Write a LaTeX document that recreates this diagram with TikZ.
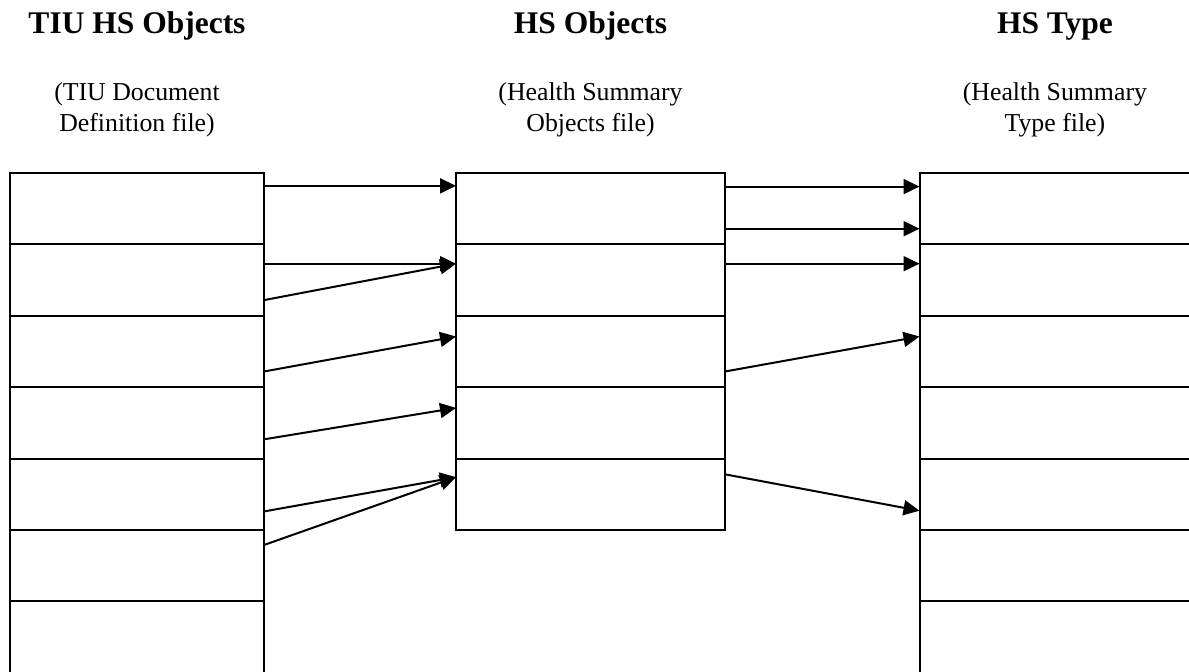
\documentclass[tikz,border=0pt]{standalone}
\usepackage{fontspec}
\setmainfont{Liberation Serif}
\usetikzlibrary{
  arrows.meta,
  positioning,  % Function "of" (e.g. [below=of x])
  calc,         % Calculations $...$
}
\def\myrowh{35.7pt}
\def\mylinew{1pt}
\tikzset{
  x=0.5pt,
  y=-0.5pt,
  >={Triangle[length=8pt,width=7.5pt]},
  cell/.style={
    draw,
    rectangle,
    line width=\mylinew,
    minimum height=\myrowh,
    inner sep=0mm,
    outer sep=0mm
  },
  tiu cell/.style={cell, minimum width=127pt},
  obj cell/.style={cell, minimum width=134.5pt},
  type cell/.style={cell, minimum width=140pt},
  heading/.style={
    anchor=base,
    inner sep=0mm,
    font=\fontsize{15.75}{18}\selectfont\bfseries
  },
  subheading/.style={
    anchor=base,
    inner sep=0mm,
    align=center,
    font=\fontsize{12.9}{15.5}\selectfont
  },
  link/.style={->, line width=\mylinew}
}

\begin{document}
\begin{tikzpicture}[node distance=0mm]
\useasboundingbox (0,0) rectangle (1189,671);
\clip (0,0) rectangle (1189,671);
% columns
\node[tiu cell,anchor=north west] (L1) at (10,173) {};
\node[tiu cell]  (L2) [below=of L1] {};
\node[tiu cell]  (L3) [below=of L2] {};
\node[tiu cell]  (L4) [below=of L3] {};
\node[tiu cell]  (L5) [below=of L4] {};
\node[tiu cell]  (L6) [below=of L5] {};
\node[tiu cell]  (L7) [below=of L6] {};
\node[obj cell,anchor=north west] (M1) at (456,173) {};
\node[obj cell]  (M2) [below=of M1] {};
\node[obj cell]  (M3) [below=of M2] {};
\node[obj cell]  (M4) [below=of M3] {};
\node[obj cell]  (M5) [below=of M4] {};
\node[type cell,anchor=north west] (R1) at (919.5,173) {};
\node[type cell] (R2) [below=of R1] {};
\node[type cell] (R3) [below=of R2] {};
\node[type cell] (R4) [below=of R3] {};
\node[type cell] (R5) [below=of R4] {};
\node[type cell] (R6) [below=of R5] {};
\node[type cell] (R7) [below=of R6] {};
% headings
\node[heading]    (tL) at ([yshift=70pt]L1.north) {TIU HS Objects};
\node[heading]    (tM) at ([yshift=70pt]M1.north) {HS Objects};
\node[heading]    (tR) at ([xshift=67.7pt,yshift=70pt]R1.north west) {HS Type};
\node[subheading] (sL) at ([yshift=21pt]L1.north) {(TIU Document\\Definition file)};
\node[subheading] (sM) at ([yshift=21pt]M1.north) {(Health Summary\\Objects file)};
\node[subheading] (sR) at ([xshift=67.7pt,yshift=21pt]R1.north west) {(Health Summary\\Type file)};
% pointers
\draw[link] ($(L1.north east)!0.18!(L1.south east)$) -- ($(M1.north west)!0.18!(M1.south west)$);
\draw[link] ($(L2.north east)!0.27!(L2.south east)$) -- ($(M2.north west)!0.27!(M2.south west)$);
\draw[link] ($(L2.north east)!0.78!(L2.south east)$) -- ($(M2.north west)!0.27!(M2.south west)$);
\draw[link] ($(L3.north east)!0.78!(L3.south east)$) -- ($(M3.north west)!0.29!(M3.south west)$);
\draw[link] ($(L4.north east)!0.73!(L4.south east)$) -- ($(M4.north west)!0.29!(M4.south west)$);
\draw[link] ($(L5.north east)!0.74!(L5.south east)$) -- ($(M5.north west)!0.26!(M5.south west)$);
\draw[link] ($(L6.north east)!0.21!(L6.south east)$) -- ($(M5.north west)!0.26!(M5.south west)$);
\draw[link] ($(M1.north east)!0.19!(M1.south east)$) -- ($(R1.north west)!0.19!(R1.south west)$);
\draw[link] ($(M1.north east)!0.78!(M1.south east)$) -- ($(R1.north west)!0.78!(R1.south west)$);
\draw[link] ($(M2.north east)!0.27!(M2.south east)$) -- ($(R2.north west)!0.27!(R2.south west)$);
\draw[link] ($(M3.north east)!0.78!(M3.south east)$) -- ($(R3.north west)!0.29!(R3.south west)$);
\draw[link] ($(M5.north east)!0.22!(M5.south east)$) -- ($(R5.north west)!0.73!(R5.south west)$);
\end{tikzpicture}
\end{document}
